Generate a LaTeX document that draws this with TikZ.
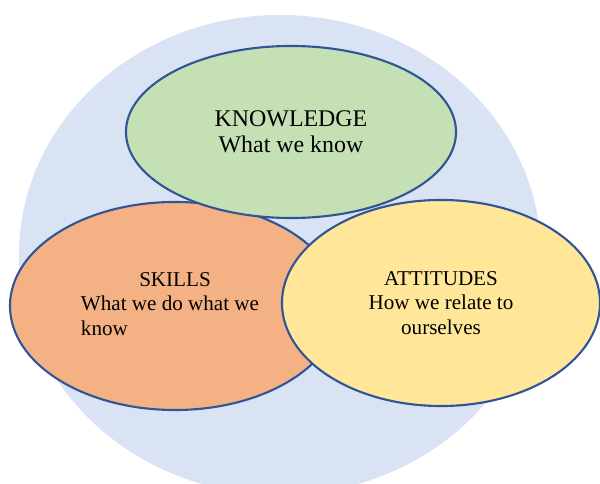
\documentclass[tikz,border=0pt]{standalone}
\usepackage{fontspec}
\setmainfont{Liberation Serif}
\usetikzlibrary{shapes.geometric}
\definecolor{ringblue}{HTML}{DAE3F3}
\definecolor{edgeblue}{HTML}{2F5597}
\definecolor{knowgreen}{HTML}{C5E0B4}
\definecolor{skillorange}{HTML}{F4B183}
\definecolor{attyellow}{HTML}{FFE699}
\begin{document}
\begin{tikzpicture}[x=0.025cm, y=-0.025cm,
        area/.style={ellipse,draw=edgeblue,line width=1.5pt,inner sep=2pt,font=\fontsize{15}{17.4}\selectfont}]
                % Page frame, the disc runs off the bottom edge
                \useasboundingbox (0,0) rectangle (600,484);
                \clip (0,0) rectangle (600,484);
                % Background disc
                \fill[ringblue] (280,255) ellipse [x radius=261, y radius=240];
                % Areas
                \node[area, fill=skillorange, minimum width=8.25cm, minimum height=5.2cm] (skills) at (175,306)
                    {\begin{tabular}{@{}p{4.7cm}@{}}\multicolumn{1}{@{}c@{}}{SKILLS}\\What we do what we\\know\end{tabular}};
                \node[area, fill=knowgreen, minimum width=8.25cm, minimum height=4.3cm, align=center, font=\fontsize{17}{18.5}\selectfont] (knowledge) at (291,132) {KNOWLEDGE\\What we know};
                \node[area, fill=attyellow, minimum width=7.95cm, minimum height=5.15cm, align=center] (attitudes) at (441,303) {ATTITUDES\\How we relate to\\ourselves};
            \end{tikzpicture}
\end{document}
